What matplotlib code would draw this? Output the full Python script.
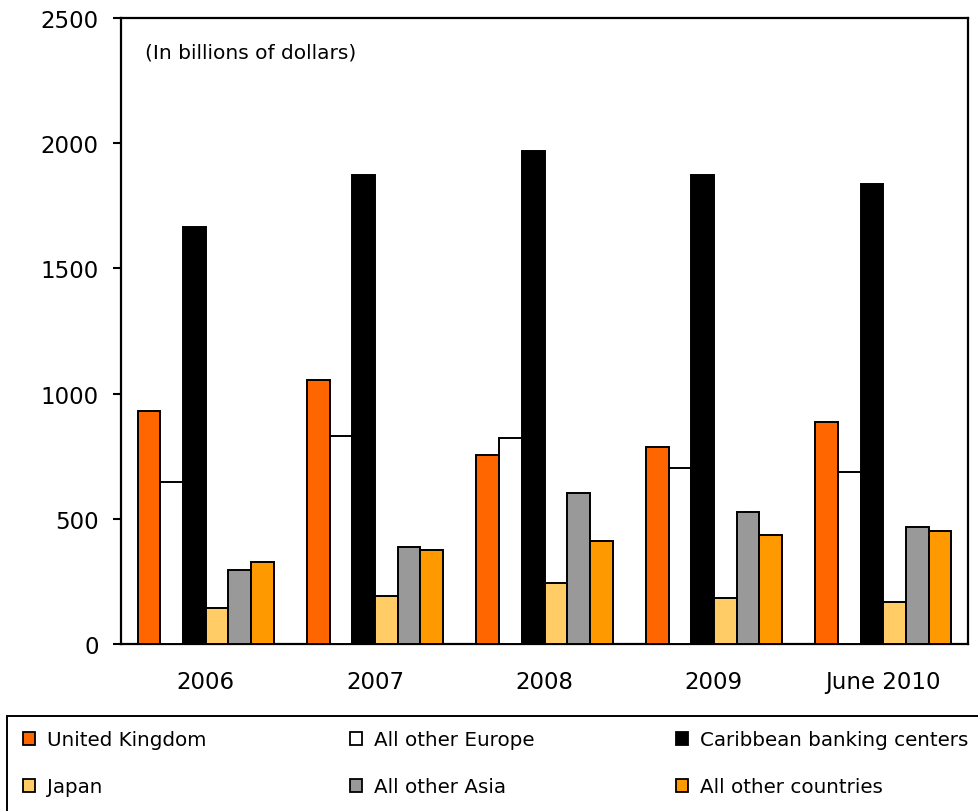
import matplotlib
matplotlib.use("Agg")
import matplotlib.pyplot as plt
from matplotlib.patches import Patch, Rectangle
import numpy as np

plt.rcParams['font.family'] = ['DejaVu Sans']

periods = ["2006", "2007", "2008", "2009", "June 2010"]
series_names = ["United Kingdom", "All other Europe", "Caribbean banking centers",
                "Japan", "All other Asia", "All other countries"]
united_kingdom = [930, 1054, 755, 786, 885]
other_europe = [648, 831, 823, 702, 686]
caribbean = [1665, 1873, 1969, 1873, 1837]
japan = [145, 190, 244, 182, 169]
other_asia = [297, 387, 603, 526, 466]
other_countries = [329, 375, 411, 435, 450]
yticks = [0, 500, 1000, 1500, 2000, 2500]

series = [united_kingdom, other_europe, caribbean, japan, other_asia, other_countries]
colors = ["#FF6600", "#FFFFFF", "#000000", "#FFCC66", "#999999", "#FF9900"]

W, H = 979, 812
fig = plt.figure(figsize=(W / 100, H / 100), dpi=100)
ax = fig.add_axes([121 / W, 1 - 645 / H, (968 - 121) / W, (645 - 19) / H])

x = np.arange(len(periods))
bw = 0.134
offsets = (np.arange(len(series)) - (len(series) - 1) / 2) * bw
for vals, col, off in zip(series, colors, offsets):
    ax.bar(x + off, vals, width=bw, color=col, edgecolor="black", linewidth=1.4, zorder=3)

ax.set_xlim(-0.5, len(periods) - 0.5)
ax.set_ylim(0, 2500)
ax.set_yticks(yticks)
ax.set_yticklabels([str(t) for t in yticks])
ax.set_xticks(x)
ax.set_xticklabels(periods)
ax.tick_params(axis="y", direction="out", length=6, width=1.5, pad=10, labelsize=16.5)
ax.tick_params(axis="x", length=0, pad=19, labelsize=16.5)
for s in ax.spines.values():
    s.set_linewidth(1.6)
    s.set_color("black")

ax.text(145 / W, 1 - 53 / H, "(In billions of dollars)", transform=fig.transFigure,
        fontsize=14.5, ha="left", va="center")

# legend frame across the bottom
fig.patches.append(Rectangle((7 / W, -0.05), 1.05, (H - 717) / H + 0.05,
                             transform=fig.transFigure, fill=False,
                             edgecolor="black", linewidth=1.4))

col_x = [23, 350, 676]
row_y = [741, 788]
for i, (name, col) in enumerate(zip(series_names, colors)):
    r, c = divmod(i, 3)
    h = Patch(facecolor=col, edgecolor="black", linewidth=1.3)
    fig.legend(handles=[h], labels=[name], loc="center left",
               bbox_to_anchor=(col_x[c] / W, 1 - row_y[r] / H),
               frameon=False, fontsize=14.3, borderpad=0, borderaxespad=0,
               handlelength=0.62, handleheight=0.62, handletextpad=0.6)

fig.savefig("out.png", dpi=100)
